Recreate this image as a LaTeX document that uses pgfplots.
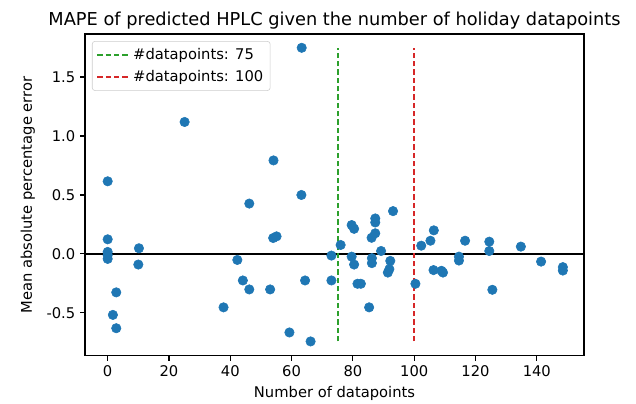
\documentclass[border=0pt]{standalone}
\usepackage{pgfplots}
\pgfplotsset{compat=1.18}
\usepackage{fontspec}
\setmainfont{DejaVu Sans}
\definecolor{mplblue}{HTML}{1F77B4}
\definecolor{mplgreen}{HTML}{2CA02C}
\definecolor{mplred}{HTML}{D62728}
\begin{document}
\begin{tikzpicture}
\begin{axis}[name=ax, scale only axis, width=359.3pt, height=231.8pt,
  xmin=-7.4, xmax=155.4, ymin=-0.865, ymax=1.865,
  xtick={0,20,...,140}, ytick={-0.5,0,0.5,1,1.5},
  yticklabel style={/pgf/number format/.cd, fixed, fixed zerofill, precision=1},
  /pgf/number format/assume math mode=true,
  tick align=outside, tick pos=left, major tick length=3.5pt,
  tick style={line width=0.8pt, black},
  axis line style={line width=0.8pt},
  ticklabel style={font=\fontsize{10.6}{12.7}\selectfont},
  title={MAPE of predicted HPLC given the number of holiday datapoints},
  every axis title/.style={at={(0.5,1)}, anchor=base, yshift=5.8pt, font=\fontsize{12.8}{15}\selectfont},
  xlabel={Number of datapoints},
  ylabel={Mean absolute percentage error},
  every axis x label/.style={at={(0.5,0)}, anchor=base, yshift=-30.2pt, font=\fontsize{10.6}{12.7}\selectfont},
  every axis y label/.style={at={(0,0.5)}, xshift=-38.2pt, rotate=90, anchor=base, font=\fontsize{10.6}{12.7}\selectfont},
  legend style={at={(0.014,0.978)}, anchor=north west, draw=black!20, rounded corners=2pt,
    font=\fontsize{10.6}{12.7}\selectfont, row sep=2.3pt, inner sep=3pt},
  legend image code/.code={\draw[#1] (0pt,0pt) -- (23pt,0pt);},
  legend cell align=left,
]
\addplot[only marks, mark=*, mark size=3.4pt, mark options={fill=mplblue, draw=mplblue}, forget plot] coordinates {
(0,0.124) (0,0.017) (0,-0.01) (0,-0.042) (0,0.616)
(10.2,0.048) (10,-0.09) (2.8,-0.326) (1.7,-0.517) (2.8,-0.63)
(25.1,1.119) (37.8,-0.453) (42.3,-0.051) (44.1,-0.225) (46.2,-0.301)
(46.2,0.427) (53,-0.301) (54,0.135) (55.1,0.149) (54.1,0.793)
(59.3,-0.666) (63.2,0.5) (63.3,1.748) (64.4,-0.225) (66.2,-0.742)
(73,-0.014) (73,-0.225) (76,0.076) (79.6,0.245) (80.4,0.213)
(79.6,-0.023) (80.4,-0.09) (81.5,-0.253) (82.6,-0.253) (85.3,-0.453)
(86.1,0.137) (87.3,0.175) (87.3,0.301) (87.3,0.267) (86.2,-0.036)
(86.2,-0.078) (89.2,0.025) (93.1,0.363) (92.2,-0.059) (91.9,-0.129)
(91.4,-0.158) (100.4,-0.253) (102.3,0.07) (105.3,0.112) (106.4,0.2)
(106.3,-0.137) (108.9,-0.143) (109.4,-0.158) (114.6,-0.023) (114.6,-0.056)
(116.6,0.112) (124.5,0.104) (124.5,0.025) (125.5,-0.304) (134.8,0.062)
(141.4,-0.065) (148.5,-0.112) (148.5,-0.141)
};
\addplot[black, line width=1pt, forget plot] coordinates {(-7.4,0) (155.4,0)};
\addplot[draw=mplgreen, color=mplgreen, line width=1.5pt, dash pattern=on 3.8pt off 2.2pt] coordinates {(75,-0.742) (75,1.748)};
\addlegendentry{\#datapoints: 75}
\addplot[draw=mplred, color=mplred, line width=1.5pt, dash pattern=on 3.8pt off 2.2pt] coordinates {(100,-0.742) (100,1.748)};
\addlegendentry{\#datapoints: 100}
\end{axis}
\pgfresetboundingbox
\path[use as bounding box] ([xshift=-61.2pt, yshift=-34.56pt]ax.south west) rectangle ([xshift=37.44pt, yshift=24.48pt]ax.north east);
\end{tikzpicture}
\end{document}
